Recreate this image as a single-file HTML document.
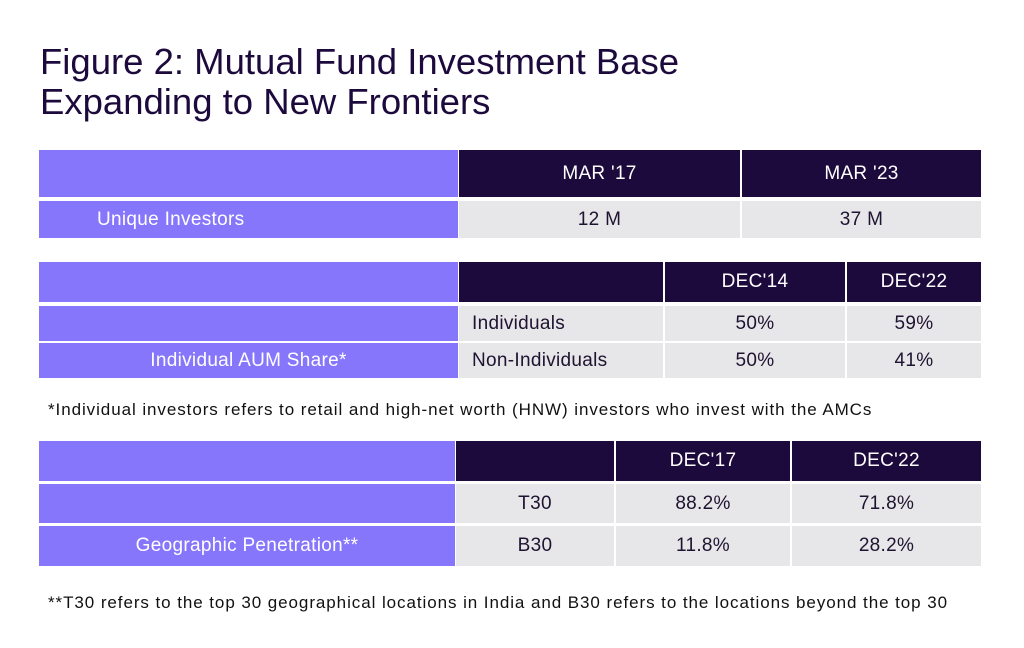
<!DOCTYPE html>
<html><head><meta charset="utf-8"><style>
body{margin:0;width:1024px;height:648px;background:#fff;font-family:"Liberation Sans",sans-serif;position:relative;overflow:hidden;color:#1e1330}
.a{position:absolute;box-sizing:border-box;display:flex;align-items:center;justify-content:center;font-size:19px;letter-spacing:0.3px}
.p{background:#8676fb;color:#fff}
.d{background:#1d0a3d;color:#fff}
.g{background:#e7e6e8;color:#1e1330}
.t{position:absolute;left:40px;font-size:36.5px;color:#1d0a3d;line-height:40px}
.n{position:absolute;left:48px;font-size:17px;letter-spacing:0.93px;color:#111;white-space:nowrap}
</style></head><body>
<div class="t" style="top:42px">Figure 2: Mutual Fund Investment Base</div>
<div class="t" style="top:82px">Expanding to New Frontiers</div>

<div class="a p" style="left:39px;top:150px;width:419px;height:47px"></div>
<div class="a d" style="left:459px;top:150px;width:281px;height:47px">MAR '17</div>
<div class="a d" style="left:742px;top:150px;width:239px;height:47px">MAR '23</div>
<div class="a p" style="left:39px;top:201px;width:419px;height:37px;justify-content:flex-start;padding-left:58px">Unique Investors</div>
<div class="a g" style="left:459px;top:201px;width:281px;height:37px">12 M</div>
<div class="a g" style="left:742px;top:201px;width:239px;height:37px">37 M</div>

<div class="a p" style="left:39px;top:262px;width:419px;height:40px"></div>
<div class="a d" style="left:459px;top:262px;width:204px;height:40px"></div>
<div class="a d" style="left:665px;top:262px;width:180px;height:40px">DEC'14</div>
<div class="a d" style="left:847px;top:262px;width:134px;height:40px">DEC'22</div>
<div class="a p" style="left:39px;top:306px;width:419px;height:35px"></div>
<div class="a g" style="left:459px;top:306px;width:204px;height:35px;justify-content:flex-start;padding-left:13px">Individuals</div>
<div class="a g" style="left:665px;top:306px;width:180px;height:35px">50%</div>
<div class="a g" style="left:847px;top:306px;width:134px;height:35px">59%</div>
<div class="a p" style="left:39px;top:343px;width:419px;height:35px">Individual AUM Share*</div>
<div class="a g" style="left:459px;top:343px;width:204px;height:35px;justify-content:flex-start;padding-left:13px">Non-Individuals</div>
<div class="a g" style="left:665px;top:343px;width:180px;height:35px">50%</div>
<div class="a g" style="left:847px;top:343px;width:134px;height:35px">41%</div>
<div class="n" style="top:400px">*Individual investors refers to retail and high-net worth (HNW) investors who invest with the AMCs</div>

<div class="a p" style="left:39px;top:441px;width:416px;height:40px"></div>
<div class="a d" style="left:456px;top:441px;width:158px;height:40px"></div>
<div class="a d" style="left:616px;top:441px;width:174px;height:40px">DEC'17</div>
<div class="a d" style="left:792px;top:441px;width:189px;height:40px">DEC'22</div>
<div class="a p" style="left:39px;top:484px;width:416px;height:39px"></div>
<div class="a g" style="left:456px;top:484px;width:158px;height:39px">T30</div>
<div class="a g" style="left:616px;top:484px;width:174px;height:39px">88.2%</div>
<div class="a g" style="left:792px;top:484px;width:189px;height:39px">71.8%</div>
<div class="a p" style="left:39px;top:526px;width:416px;height:40px">Geographic Penetration**</div>
<div class="a g" style="left:456px;top:526px;width:158px;height:40px">B30</div>
<div class="a g" style="left:616px;top:526px;width:174px;height:40px">11.8%</div>
<div class="a g" style="left:792px;top:526px;width:189px;height:40px">28.2%</div>
<div class="n" style="top:593px">**T30 refers to the top 30 geographical locations in India and B30 refers to the locations beyond the top 30</div>
</body></html>
